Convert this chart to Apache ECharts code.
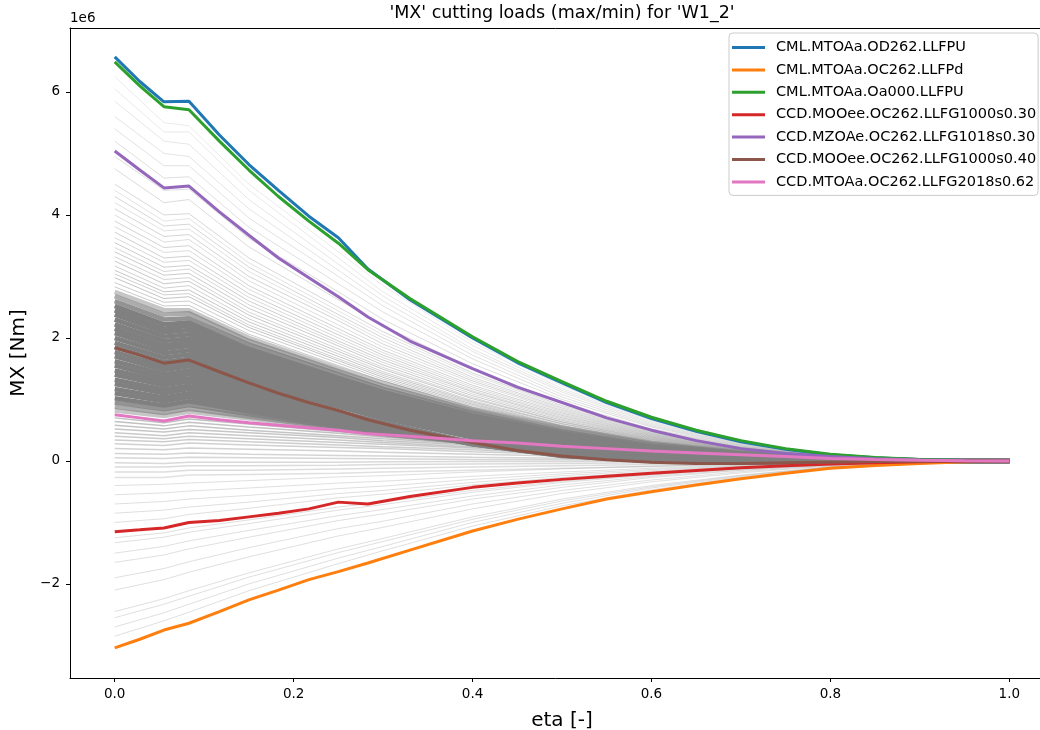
<!DOCTYPE html>
<html>
<head>
<meta charset="utf-8">
<script src="https://cdn.jsdelivr.net/npm/echarts@6/dist/echarts.min.js"></script>
<style>
html,body{margin:0;padding:0;background:#fff;}
#chart{width:1040px;height:730px;}
</style>
</head>
<body>
<div id="chart"></div>
<script>
// values in units of 1e6 Nm
const etaHi = [0, 0.028, 0.055, 0.083, 0.117, 0.15, 0.183, 0.217, 0.25, 0.283, 0.33, 0.4, 0.45, 0.5, 0.55, 0.6, 0.65, 0.7, 0.75, 0.8, 0.85, 0.9, 0.95, 1.0];
const names = ['CML.MTOAa.OD262.LLFPU','CML.MTOAa.OC262.LLFPd','CML.MTOAa.Oa000.LLFPU','CCD.MOOee.OC262.LLFG1000s0.30','CCD.MZOAe.OC262.LLFG1018s0.30','CCD.MOOee.OC262.LLFG1000s0.40','CCD.MTOAa.OC262.LLFG2018s0.62'];
const blueVals   = [6.57, 6.17, 5.84, 5.85, 5.3, 4.82, 4.4, 3.98, 3.63, 3.12, 2.62, 2.0, 1.6, 1.27, 0.95, 0.69, 0.48, 0.31, 0.19, 0.1, 0.05, 0.02, 0.005, 0];
const orangeVals = [-3.04, -2.9, -2.75, -2.64, -2.45, -2.26, -2.1, -1.93, -1.8, -1.66, -1.45, -1.14, -0.95, -0.78, -0.62, -0.5, -0.39, -0.29, -0.2, -0.12, -0.075, -0.04, -0.012, 0];
const greenVals  = [6.49, 6.1, 5.76, 5.71, 5.2, 4.73, 4.3, 3.9, 3.54, 3.11, 2.64, 2.02, 1.62, 1.29, 0.97, 0.71, 0.5, 0.33, 0.2, 0.11, 0.055, 0.022, 0.006, 0];
const redVals    = [-1.15, -1.12, -1.09, -1.0, -0.97, -0.91, -0.85, -0.78, -0.67, -0.7, -0.58, -0.43, -0.36, -0.3, -0.25, -0.2, -0.155, -0.11, -0.08, -0.05, -0.03, -0.013, -0.004, 0];
const purpleVals = [5.04, 4.73, 4.44, 4.47, 4.05, 3.67, 3.3, 2.98, 2.67, 2.34, 1.95, 1.5, 1.2, 0.95, 0.7, 0.5, 0.33, 0.2, 0.12, 0.07, 0.035, 0.015, 0.004, 0];
const brownVals  = [1.84, 1.72, 1.59, 1.64, 1.45, 1.27, 1.1, 0.95, 0.82, 0.67, 0.5, 0.3, 0.17, 0.08, 0.02, -0.02, -0.04, -0.04, -0.03, -0.02, -0.01, -0.005, 0, 0];
const pinkVals   = [0.75, 0.7, 0.65, 0.73, 0.67, 0.62, 0.58, 0.54, 0.5, 0.44, 0.4, 0.33, 0.29, 0.24, 0.2, 0.16, 0.13, 0.1, 0.07, 0.04, 0.025, 0.012, 0.004, 0];

const etaGrey = [0, 0.055, 0.083, 0.15, 0.25, 0.3, 0.4, 0.5, 0.6, 0.7, 0.8, 0.9, 1.0];
const greyUpper = [
 [6.25, 5.5, 5.45, 4.5, 3.4, 2.85, 1.93, 1.22, 0.67, 0.31, 0.1, 0.02, 0],
 [6.05, 5.35, 5.35, 4.4, 3.3, 2.75, 1.88, 1.18, 0.65, 0.3, 0.1, 0.02, 0],
 [5.85, 5.2, 5.15, 4.25, 3.2, 2.68, 1.82, 1.15, 0.63, 0.29, 0.095, 0.02, 0],
 [5.6, 5.0, 4.95, 4.1, 3.1, 2.6, 1.78, 1.12, 0.61, 0.28, 0.09, 0.02, 0],
 [5.4, 4.8, 4.8, 3.95, 3.0, 2.52, 1.72, 1.08, 0.59, 0.27, 0.09, 0.02, 0],
 [5.2, 4.6, 4.62, 3.8, 2.88, 2.42, 1.66, 1.04, 0.57, 0.26, 0.085, 0.02, 0],
 [4.95, 4.4, 4.42, 3.62, 2.75, 2.3, 1.58, 1.0, 0.55, 0.25, 0.08, 0.02, 0],
 [4.75, 4.2, 4.25, 3.48, 2.62, 2.2, 1.5, 0.95, 0.52, 0.24, 0.08, 0.018, 0],
 [4.5, 4.0, 4.02, 3.3, 2.5, 2.1, 1.43, 0.9, 0.5, 0.23, 0.075, 0.017, 0],
 [4.3, 3.82, 3.85, 3.15, 2.38, 2.0, 1.36, 0.86, 0.47, 0.22, 0.07, 0.016, 0],
 [4.1, 3.65, 3.68, 3.0, 2.28, 1.9, 1.3, 0.82, 0.45, 0.21, 0.07, 0.015, 0],
 [3.9, 3.47, 3.5, 2.85, 2.15, 1.8, 1.23, 0.78, 0.43, 0.2, 0.065, 0.014, 0],
 [3.72, 3.3, 3.33, 2.72, 2.05, 1.72, 1.17, 0.74, 0.41, 0.19, 0.06, 0.013, 0],
 [3.55, 3.15, 3.18, 2.6, 1.95, 1.64, 1.12, 0.7, 0.39, 0.18, 0.06, 0.012, 0],
 [3.4, 3.02, 3.05, 2.48, 1.87, 1.56, 1.06, 0.66, 0.37, 0.17, 0.055, 0.012, 0],
 [3.25, 2.88, 2.92, 2.37, 1.78, 1.49, 1.01, 0.63, 0.35, 0.16, 0.05, 0.011, 0],
 [3.1, 2.75, 2.78, 2.26, 1.7, 1.42, 0.96, 0.6, 0.33, 0.15, 0.05, 0.01, 0],
 [2.98, 2.64, 2.67, 2.17, 1.63, 1.36, 0.92, 0.57, 0.31, 0.14, 0.045, 0.01, 0]
];
const greyUpperMid = [
 [4.4, 3.9, 3.94, 3.22, 2.44, 2.05, 1.4, 0.88, 0.48, 0.22, 0.072, 0.016, 0],
 [4.2, 3.74, 3.77, 3.08, 2.33, 1.95, 1.33, 0.84, 0.46, 0.21, 0.07, 0.015, 0],
 [4.0, 3.56, 3.6, 2.93, 2.21, 1.85, 1.27, 0.8, 0.44, 0.2, 0.067, 0.014, 0],
 [3.81, 3.39, 3.42, 2.79, 2.1, 1.76, 1.2, 0.76, 0.42, 0.19, 0.063, 0.013, 0],
 [3.63, 3.23, 3.26, 2.66, 2.0, 1.68, 1.14, 0.72, 0.4, 0.18, 0.06, 0.012, 0],
 [3.47, 3.08, 3.12, 2.54, 1.91, 1.6, 1.09, 0.68, 0.38, 0.175, 0.057, 0.012, 0],
 [3.32, 2.95, 2.98, 2.42, 1.82, 1.52, 1.03, 0.64, 0.36, 0.165, 0.052, 0.011, 0],
 [3.17, 2.81, 2.85, 2.31, 1.74, 1.45, 0.98, 0.61, 0.34, 0.155, 0.05, 0.01, 0],
 [3.04, 2.7, 2.72, 2.21, 1.66, 1.39, 0.94, 0.58, 0.32, 0.145, 0.047, 0.01, 0],
 [2.9, 2.58, 2.6, 2.12, 1.59, 1.33, 0.9, 0.56, 0.3, 0.14, 0.045, 0.01, 0],
 [2.83, 2.52, 2.53, 2.06, 1.55, 1.3, 0.87, 0.55, 0.3, 0.14, 0.046, 0.01, 0]
];
const greyDense = [
 [2.75, 2.45, 2.45, 2.0, 1.5, 1.27, 0.85, 0.54, 0.29, 0.14, 0.047, 0.011, 0],
 [2.68, 2.38, 2.4, 1.95, 1.46, 1.22, 0.82, 0.51, 0.27, 0.13, 0.044, 0.01, 0],
 [2.6, 2.3, 2.32, 1.89, 1.41, 1.17, 0.78, 0.48, 0.25, 0.12, 0.04, 0.01, 0],
 [2.52, 2.22, 2.25, 1.82, 1.35, 1.12, 0.74, 0.45, 0.23, 0.11, 0.037, 0.009, 0],
 [2.45, 2.15, 2.2, 1.76, 1.3, 1.07, 0.7, 0.42, 0.21, 0.1, 0.034, 0.008, 0],
 [2.38, 2.09, 2.13, 1.7, 1.25, 1.02, 0.66, 0.39, 0.19, 0.09, 0.03, 0.007, 0],
 [2.3, 2.02, 2.06, 1.64, 1.2, 0.97, 0.62, 0.36, 0.17, 0.08, 0.027, 0.006, 0],
 [2.22, 1.95, 1.99, 1.58, 1.14, 0.92, 0.58, 0.33, 0.15, 0.07, 0.024, 0.005, 0],
 [2.15, 1.88, 1.93, 1.52, 1.09, 0.88, 0.54, 0.3, 0.13, 0.06, 0.02, 0.005, 0],
 [2.08, 1.82, 1.87, 1.46, 1.04, 0.83, 0.5, 0.27, 0.11, 0.05, 0.017, 0.004, 0],
 [2.0, 1.75, 1.8, 1.4, 0.99, 0.79, 0.46, 0.24, 0.1, 0.04, 0.014, 0.003, 0],
 [1.92, 1.68, 1.73, 1.34, 0.94, 0.74, 0.42, 0.2, 0.08, 0.03, 0.01, 0.002, 0],
 [1.85, 1.61, 1.66, 1.28, 0.88, 0.69, 0.38, 0.17, 0.06, 0.02, 0.007, 0.001, 0],
 [1.77, 1.54, 1.6, 1.22, 0.8, 0.62, 0.3, 0.1, 0.01, -0.02, -0.01, 0, 0],
 [1.7, 1.48, 1.54, 1.17, 0.77, 0.59, 0.28, 0.09, 0.0, -0.025, -0.012, -0.003, 0],
 [1.62, 1.41, 1.47, 1.12, 0.74, 0.57, 0.27, 0.08, 0.0, -0.03, -0.015, -0.004, 0],
 [1.55, 1.35, 1.41, 1.07, 0.71, 0.55, 0.27, 0.09, 0.01, -0.02, -0.01, -0.003, 0],
 [1.47, 1.29, 1.34, 1.04, 0.7, 0.54, 0.29, 0.13, 0.045, 0.015, 0.004, 0, 0],
 [1.4, 1.23, 1.29, 1.0, 0.67, 0.52, 0.29, 0.13, 0.05, 0.02, 0.006, 0.001, 0],
 [1.32, 1.16, 1.22, 0.96, 0.65, 0.51, 0.29, 0.14, 0.06, 0.025, 0.008, 0.002, 0],
 [1.25, 1.1, 1.17, 0.92, 0.63, 0.5, 0.29, 0.15, 0.07, 0.03, 0.01, 0.002, 0],
 [1.17, 1.03, 1.1, 0.88, 0.61, 0.49, 0.3, 0.16, 0.08, 0.035, 0.012, 0.003, 0],
 [1.1, 0.97, 1.04, 0.84, 0.59, 0.48, 0.3, 0.17, 0.09, 0.04, 0.014, 0.003, 0],
 [1.02, 0.9, 0.97, 0.8, 0.57, 0.47, 0.31, 0.18, 0.1, 0.045, 0.016, 0.004, 0],
 [0.95, 0.84, 0.91, 0.76, 0.55, 0.46, 0.31, 0.19, 0.11, 0.05, 0.018, 0.004, 0],
 [0.88, 0.78, 0.85, 0.72, 0.53, 0.44, 0.3, 0.19, 0.115, 0.055, 0.02, 0.005, 0],
 [0.82, 0.73, 0.8, 0.69, 0.51, 0.43, 0.3, 0.19, 0.12, 0.06, 0.022, 0.005, 0]
];
const greyMid = [
 [0.7, 0.62, 0.68, 0.6, 0.48, 0.42, 0.32, 0.23, 0.15, 0.09, 0.04, 0.012, 0],
 [0.64, 0.57, 0.63, 0.55, 0.45, 0.39, 0.3, 0.22, 0.14, 0.085, 0.038, 0.011, 0],
 [0.58, 0.52, 0.57, 0.5, 0.41, 0.36, 0.28, 0.2, 0.13, 0.08, 0.035, 0.01, 0],
 [0.52, 0.47, 0.51, 0.46, 0.38, 0.33, 0.26, 0.19, 0.12, 0.075, 0.033, 0.01, 0],
 [0.46, 0.41, 0.46, 0.41, 0.34, 0.3, 0.23, 0.17, 0.11, 0.07, 0.03, 0.009, 0],
 [0.4, 0.36, 0.4, 0.36, 0.3, 0.27, 0.21, 0.15, 0.1, 0.06, 0.027, 0.008, 0],
 [0.34, 0.31, 0.35, 0.31, 0.26, 0.23, 0.18, 0.13, 0.09, 0.055, 0.024, 0.007, 0],
 [0.28, 0.25, 0.29, 0.26, 0.22, 0.2, 0.15, 0.11, 0.075, 0.045, 0.02, 0.006, 0],
 [0.2, 0.18, 0.21, 0.19, 0.16, 0.14, 0.11, 0.08, 0.055, 0.033, 0.015, 0.004, 0],
 [0.12, 0.11, 0.13, 0.11, 0.09, 0.08, 0.06, 0.045, 0.03, 0.018, 0.008, 0.002, 0],
 [0.05, 0.04, 0.06, 0.05, 0.04, 0.035, 0.025, 0.02, 0.012, 0.008, 0.004, 0.001, 0],
 [-0.03, -0.04, -0.02, -0.02, -0.02, -0.015, -0.01, -0.008, -0.005, -0.003, -0.001, 0, 0],
 [-0.1, -0.1, -0.08, -0.08, -0.07, -0.06, -0.05, -0.04, -0.03, -0.018, -0.008, -0.002, 0],
 [-0.18, -0.18, -0.15, -0.15, -0.13, -0.12, -0.1, -0.08, -0.06, -0.04, -0.02, -0.005, 0],
 [-0.27, -0.27, -0.23, -0.22, -0.2, -0.18, -0.15, -0.12, -0.09, -0.06, -0.03, -0.008, 0]
];
const greyLower = [
 [-0.4, -0.38, -0.36, -0.32, -0.26, -0.24, -0.18, -0.13, -0.085, -0.05, -0.022, -0.006, 0],
 [-0.55, -0.52, -0.49, -0.44, -0.36, -0.33, -0.25, -0.18, -0.12, -0.07, -0.03, -0.008, 0],
 [-0.7, -0.66, -0.62, -0.56, -0.45, -0.41, -0.3, -0.21, -0.14, -0.08, -0.035, -0.009, 0],
 [-0.85, -0.8, -0.75, -0.67, -0.53, -0.48, -0.35, -0.24, -0.16, -0.09, -0.04, -0.01, 0],
 [-1.0, -0.94, -0.87, -0.77, -0.6, -0.54, -0.39, -0.27, -0.18, -0.1, -0.045, -0.012, 0],
 [-1.25, -1.17, -1.09, -0.96, -0.75, -0.67, -0.48, -0.33, -0.22, -0.125, -0.055, -0.015, 0],
 [-1.33, -1.24, -1.16, -1.02, -0.8, -0.71, -0.51, -0.35, -0.23, -0.13, -0.058, -0.016, 0],
 [-1.5, -1.39, -1.3, -1.13, -0.89, -0.79, -0.57, -0.39, -0.25, -0.145, -0.062, -0.017, 0],
 [-1.65, -1.53, -1.43, -1.24, -0.97, -0.86, -0.62, -0.43, -0.27, -0.155, -0.066, -0.018, 0],
 [-1.9, -1.75, -1.64, -1.41, -1.1, -0.98, -0.7, -0.48, -0.31, -0.175, -0.074, -0.02, 0],
 [-2.1, -1.93, -1.81, -1.56, -1.22, -1.08, -0.78, -0.53, -0.34, -0.195, -0.082, -0.022, 0],
 [-2.45, -2.24, -2.11, -1.82, -1.43, -1.26, -0.91, -0.62, -0.4, -0.23, -0.095, -0.026, 0],
 [-2.55, -2.33, -2.2, -1.89, -1.49, -1.31, -0.95, -0.65, -0.42, -0.24, -0.1, -0.027, 0],
 [-2.7, -2.47, -2.33, -2.0, -1.58, -1.39, -1.0, -0.69, -0.44, -0.255, -0.105, -0.028, 0],
 [-2.85, -2.6, -2.46, -2.11, -1.67, -1.46, -1.06, -0.73, -0.47, -0.27, -0.11, -0.03, 0]
];

const pair = (xs, ys) => ys.map((v, i) => [xs[i], v]);
const FONT = 'DejaVu Sans';
const series = [];
function addGrey(vals, width, alpha) {
  series.push({
    type: 'line', data: pair(etaGrey, vals), symbol: 'none', silent: true,
    lineStyle: { width: width, color: 'rgba(128,128,128,' + alpha + ')' }, emphasis: { disabled: true }, z: 1
  });
}
greyUpper.forEach((v, i) => addGrey(v, 1.0, (0.16 + 0.018 * i).toFixed(3)));
greyUpperMid.forEach((v, i) => addGrey(v, 1.0, (0.22 + 0.02 * i).toFixed(3)));
greyLower.forEach((v) => addGrey(v, 1.0, 0.25));
greyMid.forEach((v, i) => addGrey(v, 1.5, (0.5 - 0.018 * i).toFixed(3)));
greyDense.forEach((v, i, arr) => {
  const edge = Math.min(i, arr.length - 1 - i);
  const a = edge === 0 ? 0.45 : edge === 1 ? 0.65 : edge === 2 ? 0.85 : 1;
  addGrey(v, 4.6, a);
});

const hiColors = ['#1f77b4', '#ff7f0e', '#2ca02c', '#d62728', '#9467bd', '#8c564b', '#e377c2'];
const hiVals = [blueVals, orangeVals, greenVals, redVals, purpleVals, brownVals, pinkVals];
hiVals.forEach((vals, i) => series.push({
  name: names[i], type: 'line', data: pair(etaHi, vals), symbol: 'none',
  color: hiColors[i], lineStyle: { width: 3, color: hiColors[i] }, z: 3
}));

const tickStyle = { show: true, length: 4, lineStyle: { color: '#000', width: 1 } };
const chart = echarts.init(document.getElementById('chart'), null, { renderer: 'canvas' });
chart.setOption({
  animation: false,
  backgroundColor: '#ffffff',
  grid: { left: 70, top: 28, width: 984, height: 650, containLabel: false, outerBoundsMode: 'none', show: false },
  xAxis: [{
    type: 'value', min: -0.05, max: 1.05, position: 'bottom',
    axisLine: { show: true, onZero: false, lineStyle: { color: '#000', width: 1 } },
    axisTick: tickStyle,
    splitLine: { show: false },
    axisLabel: { showMinLabel: false, showMaxLabel: false, margin: 9, color: '#000', fontFamily: FONT, fontSize: 13.5,
      formatter: v => v.toFixed(1) },
    name: 'eta [-]', nameLocation: 'middle', nameGap: 33,
    nameTextStyle: { fontFamily: FONT, fontSize: 20, color: '#000' }
  }, {
    type: 'value', min: -0.05, max: 1.05, position: 'top',
    axisLine: { show: true, onZero: false, lineStyle: { color: '#000', width: 1 } },
    axisTick: { show: false }, axisLabel: { show: false }, splitLine: { show: false }
  }],
  yAxis: {
    type: 'value', min: -3.53, max: 7.04, position: 'left',
    axisLine: { show: true, onZero: false, lineStyle: { color: '#000', width: 1 } },
    axisTick: tickStyle,
    splitLine: { show: false },
    axisLabel: { showMinLabel: false, showMaxLabel: false, margin: 10, color: '#000', fontFamily: FONT, fontSize: 13.5,
      formatter: v => (v < 0 ? '\u2212' + Math.abs(v) : String(v)) },
    name: 'MX [Nm]', nameLocation: 'middle', nameGap: 40, nameRotate: 90,
    nameTextStyle: { fontFamily: FONT, fontSize: 20, color: '#000' }
  },
  legend: {
    data: names, orient: 'vertical', left: 729, top: 33,
    icon: 'rect', itemWidth: 33, itemHeight: 3, itemGap: 5.4,
    padding: [6, 2, 5, 3],
    backgroundColor: 'rgba(255,255,255,0.8)', borderColor: '#cccccc', borderWidth: 1, borderRadius: 4,
    textStyle: { fontFamily: FONT, fontSize: 14.5, color: '#000', lineHeight: 17, padding: [0, 0, 0, 6] },
    selectedMode: false
  },
  graphic: [
    { type: 'text', x: 562, y: 13, style: { text: "'MX' cutting loads (max/min) for 'W1_2'", font: '17.5px "DejaVu Sans"', fill: '#000', textAlign: 'center', textVerticalAlign: 'middle' } },
    { type: 'text', x: 70, y: 18, style: { text: '1e6', font: '13.5px "DejaVu Sans"', fill: '#000', textAlign: 'left', textVerticalAlign: 'middle' } }
  ],
  series: series
});
</script>
</body>
</html>
